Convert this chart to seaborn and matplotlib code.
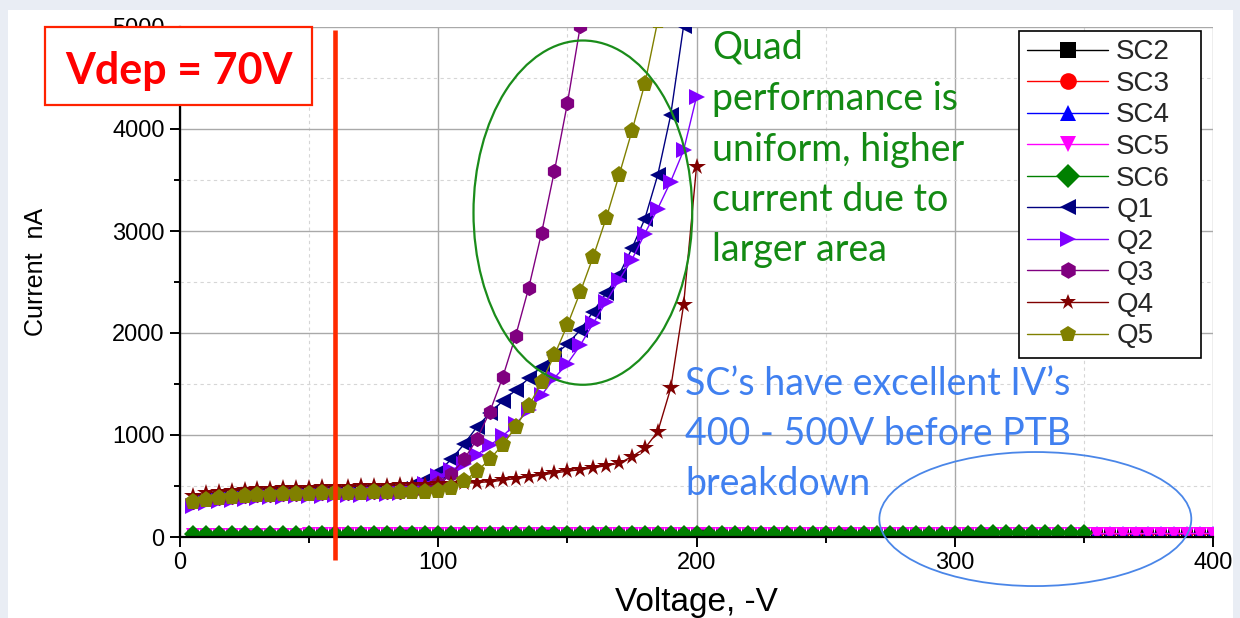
import numpy as np
import pandas as pd
import matplotlib
matplotlib.use("Agg")
import matplotlib.pyplot as plt
import seaborn as sns
from matplotlib.patches import Ellipse, Rectangle
from matplotlib.ticker import MultipleLocator

# ---------------- data ----------------
V_SC = list(range(5, 405, 5))          # 5 .. 400 V
V_SC6 = list(range(5, 355, 5))         # 5 .. 350 V

SC2 = [20, 21, 21, 21, 22, 22, 22, 22, 22, 22, 23, 23, 23, 23, 23, 23, 23, 23, 23, 24,
       24, 24, 24, 24, 24, 24, 24, 24, 24, 24, 25, 25, 25, 25, 25, 25, 25, 25, 25, 25,
       25, 26, 26, 26, 26, 26, 26, 26, 26, 26, 26, 26, 27, 27, 27, 27, 27, 27, 27, 27,
       27, 27, 28, 28, 28, 28, 28, 28, 28, 28, 28, 29, 29, 29, 29, 29, 29, 30, 30, 30]
SC3 = [21, 22, 22, 22, 23, 23, 23, 23, 23, 24, 24, 24, 24, 24, 24, 24, 25, 25, 25, 25,
       25, 25, 25, 25, 26, 26, 26, 26, 26, 26, 26, 26, 26, 27, 27, 27, 27, 27, 27, 27,
       27, 27, 28, 28, 28, 28, 28, 28, 28, 28, 28, 29, 29, 29, 29, 29, 29, 29, 29, 30,
       30, 30, 30, 30, 30, 30, 31, 31, 31, 31, 31, 31, 32, 32, 32, 32, 32, 33, 33, 33]
SC4 = [24, 25, 25, 26, 26, 26, 26, 27, 27, 27, 27, 27, 27, 28, 28, 28, 28, 28, 28, 28,
       29, 29, 29, 29, 29, 29, 29, 29, 30, 30, 30, 30, 30, 30, 30, 30, 30, 31, 31, 31,
       31, 31, 31, 31, 31, 32, 32, 32, 32, 32, 32, 32, 32, 33, 33, 33, 33, 33, 33, 33,
       34, 34, 34, 34, 34, 34, 34, 35, 35, 35, 35, 35, 35, 36, 36, 36, 36, 36, 37, 37]
SC5 = [22, 23, 23, 23, 24, 24, 24, 24, 24, 25, 25, 25, 25, 25, 25, 25, 26, 26, 26, 26,
       26, 26, 26, 26, 26, 27, 27, 27, 27, 27, 27, 27, 27, 27, 28, 28, 28, 28, 28, 28,
       28, 28, 28, 29, 29, 29, 29, 29, 29, 29, 29, 29, 30, 30, 30, 30, 30, 30, 30, 30,
       31, 31, 31, 31, 31, 31, 31, 32, 32, 32, 32, 32, 32, 32, 33, 33, 33, 33, 33, 34]
SC6 = [25, 26, 26, 27, 27, 27, 27, 28, 28, 28, 28, 28, 28, 29, 29, 29, 29, 29, 29, 29,
       30, 30, 30, 30, 30, 30, 30, 30, 31, 31, 31, 31, 31, 31, 31, 31, 31, 32, 32, 32,
       32, 32, 32, 32, 32, 33, 33, 33, 33, 33, 33, 33, 33, 34, 34, 34, 34, 34, 34, 34,
       34, 35, 35, 35, 35, 35, 35, 35, 36, 36]

V_Q1 = list(range(5, 200, 5))   # 5 .. 195
Q1 = [350, 372, 388, 398, 407, 413, 418, 422, 426, 429, 432, 435, 437, 440, 443, 448,
      470, 505, 555, 640, 760, 910, 1080, 1215, 1335, 1440, 1555, 1670, 1785, 1890,
      2030, 2210, 2390, 2570, 2830, 3120, 3550, 4135, 5010]
V_Q2 = list(range(5, 205, 5))   # 5 .. 200
Q2 = [305, 333, 350, 363, 373, 381, 388, 393, 398, 402, 406, 409, 412, 415, 418, 422, 430,
      460, 520, 600, 655, 720, 805, 900, 990, 1110, 1245, 1390, 1560, 1700, 1880,
      2095, 2305, 2520, 2720, 2975, 3220, 3485, 3790, 4315]
V_Q3 = list(range(5, 160, 5))   # 5 .. 155
Q3 = [345, 368, 384, 396, 404, 411, 416, 420, 424, 427, 430, 432, 435, 437, 439, 442, 445, 450,
      475, 530, 615, 760, 960, 1230, 1570, 1975, 2440, 2980, 3590, 4250, 5010]
V_Q4 = list(range(5, 205, 5))   # 5 .. 200
Q4 = [405, 430, 445, 455, 462, 468, 473, 477, 481, 485, 488, 491, 494, 497, 500, 503, 506, 509,
      512, 516, 520, 526, 534, 542, 556, 573, 590, 607, 628, 645, 660, 678, 700, 722, 788,
      869, 1033, 1458, 2275, 3630]
V_Q5 = list(range(5, 190, 5))   # 5 .. 185
Q5 = [340, 366, 382, 394, 403, 410, 415, 419, 423, 426, 429, 431, 434, 436, 438, 440, 442, 444, 446,
      452, 484, 549, 646, 763, 906, 1078, 1282, 1515, 1785, 2078, 2402, 2748, 3124, 3545,
      3980, 4445, 5060]

names = ["SC2", "SC3", "SC4", "SC5", "SC6", "Q1", "Q2", "Q3", "Q4", "Q5"]
xs = [V_SC, V_SC, V_SC, V_SC, V_SC6, V_Q1, V_Q2, V_Q3, V_Q4, V_Q5]
ys = [SC2, SC3, SC4, SC5, SC6, Q1, Q2, Q3, Q4, Q5]
colors = ["#000000", "#ff0000", "#0000ff", "#ff00ff", "#008000",
          "#000080", "#8000ff", "#800080", "#800000", "#808000"]
markers = ["s", "o", "^", "v", "D", "<", ">", "h", "*", "p"]
msizes = [8, 8, 10, 10, 9.5, 11.5, 11.5, 11, 13, 12.5]

# ---------------- figure ----------------
W, H = 1240, 618
sns.set_theme(style="white")
plt.rcParams['font.family'] = ['Liberation Sans', 'DejaVu Sans']

fig = plt.figure(figsize=(W / 100, H / 100), dpi=100)
fig.patch.set_facecolor('#e9edf4')
fig.add_artist(Rectangle((8 / W, 0), (1233 - 8) / W, (H - 10) / H,
                         transform=fig.transFigure, facecolor='white',
                         edgecolor='none', zorder=-10))

ax = fig.add_axes([180 / W, 1 - 537 / H, (1213 - 180) / W, (537 - 27) / H])
ax.set_facecolor('none')

for n, x, y, c, m, s in zip(names, xs, ys, colors, markers, msizes):
    sns.lineplot(x=x, y=y, ax=ax, color=c, marker=m, markersize=s,
                 markeredgewidth=0, linewidth=1.0, label=n,
                 estimator=None, legend=False)

ax.set_xlim(0, 400)
ax.set_ylim(0, 5000)
ax.xaxis.set_major_locator(MultipleLocator(100))
ax.xaxis.set_minor_locator(MultipleLocator(50))
ax.yaxis.set_major_locator(MultipleLocator(1000))
ax.yaxis.set_minor_locator(MultipleLocator(500))
ax.grid(True, which='major', color='#a9a9a9', lw=1.0, ls='-')
ax.grid(True, which='minor', color='#d6d6d6', lw=0.8, ls=(0, (3, 3)))
ax.set_axisbelow(True)

for side in ['top', 'right']:
    ax.spines[side].set_visible(False)
for side in ['left', 'bottom']:
    ax.spines[side].set_color('black')
    ax.spines[side].set_linewidth(1.6)
    ax.spines[side].set_zorder(3)

ax.tick_params(which='both', direction='out', bottom=True, left=True,
               color='black', width=1.4)
ax.tick_params(which='major', length=7, labelsize=17, pad=4, labelcolor='black')
ax.tick_params(which='minor', length=4)

ax.set_xlabel('Voltage, -V', fontsize=24, color='black')
ax.set_ylabel('Current  nA', fontsize=18, color='black')
ax.xaxis.set_label_coords(0.5, -0.098)
ax.yaxis.set_label_coords(-0.128, 0.52)

# Vdep line
ax.plot([60, 60], [-225, 4970], color='#ff2a00', lw=3.3, clip_on=False,
        zorder=4, label='_nolegend_', solid_capstyle='butt')

# ellipses
ax.add_patch(Ellipse((156, 3180), width=84.7, height=3375, fill=False,
                     edgecolor='#1a8c1a', lw=1.6, clip_on=False, zorder=5))
ax.add_patch(Ellipse((331.2, 176), width=120.8, height=1314, fill=False,
                     edgecolor='#4a86e8', lw=1.3, clip_on=False, zorder=5))

leg = ax.legend(loc='upper left',
                bbox_to_anchor=(1019 / W, 1 - 352 / H, 182 / W, 321 / H),
                bbox_transform=fig.transFigure, mode='expand',
                borderaxespad=0, frameon=True,
                fancybox=False, edgecolor='black', framealpha=1, fontsize=20,
                handlelength=2.9, handletextpad=0.3, labelspacing=0.2,
                borderpad=0.3)
leg.get_frame().set_linewidth(1.2)
for h in leg.legend_handles:
    h.set_markersize(12)

# Vdep box
fig.add_artist(Rectangle((45 / W, 1 - 105 / H), 267 / W, 78 / H,
                         transform=fig.transFigure, facecolor='white',
                         edgecolor='#ff2200', lw=1.6, zorder=6))
fig.text(178.5 / W, 1 - 84 / H, 'Vdep = 70V', ha='center', va='baseline',
         color='#ff0000', fontsize=31, fontweight='bold', family='Lato', zorder=7)

green_lines = ["Quad", "performance is", "uniform, higher", "current due to", "larger area"]
green_base = [58, 110, 161, 211, 261]
for t, b in zip(green_lines, green_base):
    fig.text(712 / W, 1 - b / H, t, ha='left', va='baseline', color='#138a13',
             fontsize=27, family='Lato', zorder=7)

blue_lines = ["SC\u2019s have excellent IV\u2019s", "400 - 500V before PTB", "breakdown"]
blue_base = [395, 445, 495]
for t, b in zip(blue_lines, blue_base):
    fig.text(685 / W, 1 - b / H, t, ha='left', va='baseline', color='#4080f0',
             fontsize=27, family='Lato', zorder=7)

# slide edge on the right (cuts the last tick label as in the slide)
fig.add_artist(Rectangle((1233 / W, 0), 7 / W, 1, transform=fig.transFigure,
                         facecolor='#e9edf4', edgecolor='none', zorder=20))

fig.savefig('out.png', dpi=100, facecolor=fig.get_facecolor())
